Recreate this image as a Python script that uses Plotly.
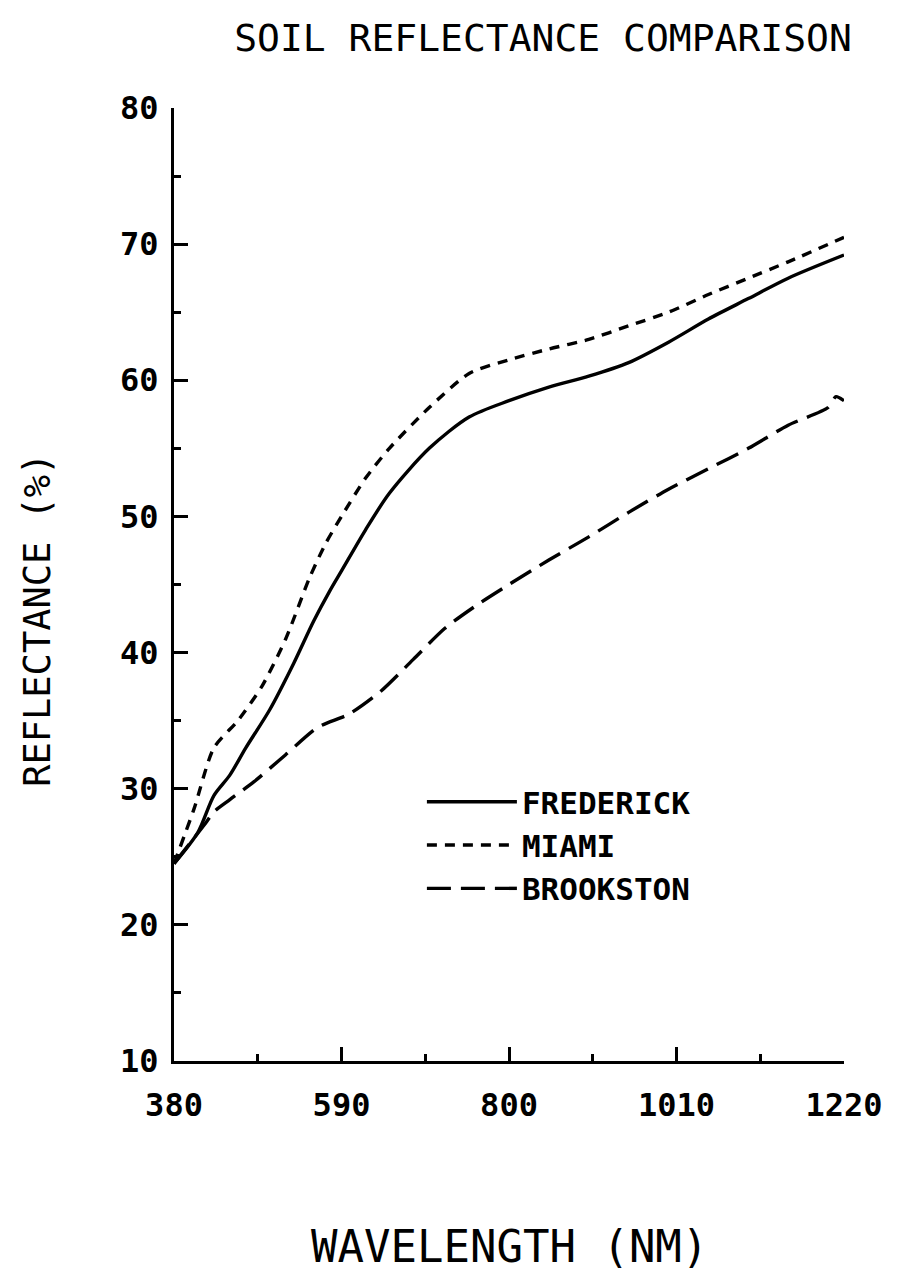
import plotly.graph_objects as go

# Data (wavelength nm, reflectance %)
frederick_wl = [380, 410, 430, 450, 470, 500, 530, 555, 575, 590, 620, 650, 700, 750, 800, 850, 900, 950, 1000, 1050, 1100, 1150, 1220]
frederick_r = [24.5, 26.8, 29.5, 31.0, 33.0, 35.8, 39.2, 42.3, 44.5, 46.0, 49.0, 51.7, 55.0, 57.3, 58.5, 59.5, 60.3, 61.3, 62.8, 64.5, 66.0, 67.5, 69.2]

miami_wl = [380, 405, 430, 460, 490, 520, 550, 570, 590, 620, 650, 700, 750, 800, 850, 900, 950, 1000, 1050, 1100, 1150, 1220]
miami_r = [24.5, 28.5, 33.0, 35.0, 37.5, 41.0, 45.5, 48.0, 50.0, 52.8, 55.0, 58.0, 60.5, 61.5, 62.3, 63.0, 64.0, 65.0, 66.3, 67.5, 68.7, 70.5]

brookston_wl = [380, 420, 430, 450, 480, 520, 560, 600, 640, 680, 720, 760, 800, 850, 900, 950, 1000, 1050, 1100, 1150, 1200, 1210, 1220]
brookston_r = [24.5, 27.5, 28.3, 29.2, 30.5, 32.5, 34.5, 35.5, 37.2, 39.5, 41.8, 43.5, 45.0, 46.8, 48.5, 50.3, 52.0, 53.5, 55.0, 56.7, 58.0, 58.8, 58.5]

x_ticks = [380, 590, 800, 1010, 1220]
x_tick_labels = ["380", "590", "800", "1010", "1220"]
y_ticks = [10, 20, 30, 40, 50, 60, 70, 80]
y_tick_labels = ["10", "20", "30", "40", "50", "60", "70", "80"]

FONT = "DejaVu Sans Mono"
LW = 3.4

fig = go.Figure()
fig.add_trace(go.Scatter(x=frederick_wl, y=frederick_r, mode="lines", name="FREDERICK",
                         line=dict(color="black", width=LW, shape="spline", smoothing=0.8)))
fig.add_trace(go.Scatter(x=miami_wl, y=miami_r, mode="lines", name="MIAMI",
                         line=dict(color="black", width=LW, dash="10px,8px", shape="spline", smoothing=0.7)))
fig.add_trace(go.Scatter(x=brookston_wl, y=brookston_r, mode="lines", name="BROOKSTON",
                         line=dict(color="black", width=LW, dash="24px,10px", shape="spline", smoothing=0.7)))

fig.update_layout(
    width=897, height=1288,
    margin=dict(l=174, r=53, t=108, b=227),
    paper_bgcolor="white", plot_bgcolor="white",
    font=dict(family=FONT, color="black"),
    title=dict(text="SOIL REFLECTANCE COMPARISON", x=543 / 897, xanchor="center",
               y=1 - 38 / 1288, yanchor="middle", font=dict(size=38, family=FONT)),
    showlegend=True,
    legend=dict(x=0.37, y=0.30, xanchor="left", yanchor="top",
                font=dict(size=31, family=FONT, weight="bold"),
                bgcolor="rgba(0,0,0,0)", itemwidth=90, tracegroupgap=0),
    xaxis=dict(range=[380, 1220], tickvals=x_ticks, ticktext=x_tick_labels,
               showline=True, linecolor="black", linewidth=3, showgrid=False, zeroline=False,
               ticks="inside", ticklen=14, tickwidth=3, tickcolor="black",
               ticklabelstandoff=14,
               tickfont=dict(size=32, family=FONT, weight="bold"),
               minor=dict(ticks="inside", ticklen=7, tickwidth=3, tickcolor="black", dtick=105, tick0=380)),
    yaxis=dict(range=[10, 80], tickvals=y_ticks, ticktext=y_tick_labels,
               showline=True, linecolor="black", linewidth=3, showgrid=False, zeroline=False,
               ticks="inside", ticklen=14, tickwidth=3, tickcolor="black",
               ticklabelstandoff=6,
               tickfont=dict(size=32, family=FONT, weight="bold"),
               minor=dict(ticks="inside", ticklen=7, tickwidth=3, tickcolor="black", dtick=5, tick0=10)),
    annotations=[
        dict(text="WAVELENGTH (NM)", xref="paper", yref="paper", x=0.5, y=0,
             yshift=-185, showarrow=False, font=dict(size=44, family=FONT),
             xanchor="center", yanchor="middle"),
        dict(text="REFLECTANCE (%)", xref="paper", yref="paper", x=(38 - 174) / 670, y=0.463,
             textangle=-90, showarrow=False, font=dict(size=37, family=FONT),
             xanchor="center", yanchor="middle"),
    ],
)

fig.write_html("out.html")
